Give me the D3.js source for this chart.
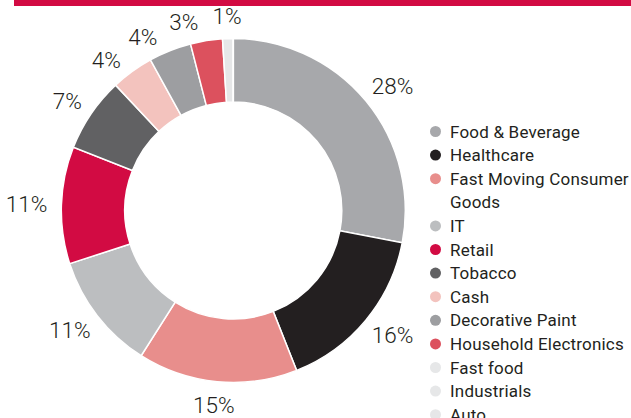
<!DOCTYPE html>
<html>
<head>
<meta charset="utf-8">
<script src="https://cdn.jsdelivr.net/npm/d3@7"></script>
<style>
  body { margin: 0; background: #fff; }
  svg { display: block; font-family: Roboto, 'Liberation Sans', sans-serif; }
</style>
</head>
<body>
<div id="donut"></div>
<script>
// sectors, share of portfolio (%)
var sectors = ['Food & Beverage', 'Healthcare', 'Fast Moving Consumer Goods', 'IT', 'Retail', 'Tobacco',
  'Cash', 'Decorative Paint', 'Household Electronics', 'Fast food', 'Industrials', 'Auto']
var shares = [28, 16, 15, 11, 11, 7, 4, 4, 3, 1, 0, 0]
var sectorColors = ['#a7a8ab', '#231f20', '#e88e8c', '#bcbec0', '#d20b43', '#616163',
  '#f3c3be', '#9d9ea1', '#dc515e', '#e6e7e8', '#e6e7e8', '#e6e7e8']

var width = 631
var height = 418

var svg = d3
  .select('#donut')
  .append('svg')
  .attr('width', width)
  .attr('height', height)

// red rule along the top
svg
  .append('rect')
  .attr('x', 14)
  .attr('y', 0)
  .attr('width', width - 14)
  .attr('height', 6)
  .attr('fill', '#d20b43')

var datapoints = sectors.map(function(s, i) {
  return { name: s, value: shares[i], color: sectorColors[i] }
})

var outerRadius = 172
var innerRadius = 108.5

var holder = svg
  .append('g')
  .attr('transform', 'translate(233.3,210.5)')

var pie = d3
  .pie()
  .sort(null)
  .value(function(d) {
    return d.value
  })

var arc = d3
  .arc()
  .innerRadius(innerRadius)
  .outerRadius(outerRadius)

var arcs = pie(datapoints)

holder
  .selectAll('path')
  .data(arcs)
  .enter()
  .append('path')
  .attr('d', arc)
  .attr('fill', function(d) {
    return d.data.color
  })
  .attr('stroke', '#fff')
  .attr('stroke-width', 1.5)

// percentage labels outside the ring
var labelled = arcs.filter(function(d) {
  return d.data.value > 0
})
var angles = labelled.map(function(d) {
  return (d.startAngle + d.endAngle) / 2
})
// push crowded small labels apart, walking back from the last one
var minGap = (12.5 * Math.PI) / 180
for (var i = angles.length - 2; i >= 0; i--) {
  if (angles[i + 1] - angles[i] < minGap) {
    angles[i] = angles[i + 1] - minGap
  }
}

var labelRadius = 186
var labelHeight = 18

holder
  .selectAll('.pct')
  .data(labelled)
  .enter()
  .append('text')
  .attr('class', 'pct')
  .text(function(d) {
    return d.data.value + '%'
  })
  .attr('font-size', 22.5)
  .attr('font-weight', 300)
  .attr('fill', '#231f20')
  .attr('text-anchor', 'middle')
  .attr('dy', '0.36em')
  .each(function(d, i) {
    var w = this.getComputedTextLength()
    var ux = Math.sin(angles[i])
    var uy = -Math.cos(angles[i])
    d3.select(this)
      .attr('x', labelRadius * ux + (w / 2) * ux)
      .attr('y', labelRadius * uy + (labelHeight / 2) * uy)
  })

// legend, wrapped to the space on the right
var legendX = 450
var legendWidth = width - legendX
var rowHeight = 23.6
var rowY = d3
  .scaleLinear()
  .domain([0, 1])
  .range([131.5, 131.5 + rowHeight])

var legend = svg.append('g').attr('class', 'legend')
var row = 0

datapoints.forEach(function(d) {
  var item = legend.append('g')
  item
    .append('circle')
    .attr('cx', 435.5)
    .attr('cy', rowY(row))
    .attr('r', 5.5)
    .attr('fill', d.color)

  var words = d.name.split(' ')
  var line = []
  var text = item
    .append('text')
    .attr('font-size', 17)
    .attr('letter-spacing', 0.2)
    .attr('fill', '#231f20')
  var tspan = text
    .append('tspan')
    .attr('x', legendX)
    .attr('y', rowY(row))
    .attr('dy', '0.36em')
  words.forEach(function(word) {
    line.push(word)
    tspan.text(line.join(' '))
    if (tspan.node().getComputedTextLength() > legendWidth && line.length > 1) {
      line.pop()
      tspan.text(line.join(' '))
      line = [word]
      row++
      tspan = text
        .append('tspan')
        .attr('x', legendX)
        .attr('y', rowY(row))
        .attr('dy', '0.36em')
        .text(word)
    }
  })
  row++
})
</script>
</body>
</html>
